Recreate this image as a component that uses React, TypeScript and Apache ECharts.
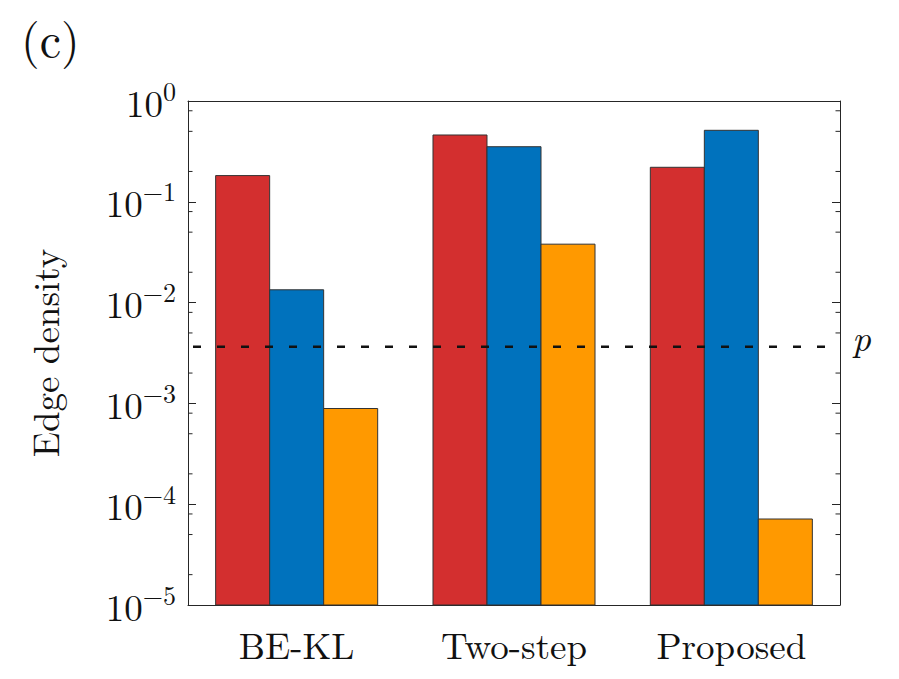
import React, { useEffect, useRef } from "react";
import * as echarts from "echarts";

const categories = ["BE-KL", "Two-step", "Proposed"];
const seriesNames = ["Series A", "Series B", "Series C"];
const seriesA = [0.182, 0.46, 0.22];
const seriesB = [0.0134, 0.352, 0.512];
const seriesC = [0.00089, 0.038, 0.0000713];
const pValue = 0.00365;
const yMin = 1e-5;
const yMax = 1;
const minorTickValues = [
  2e-5, 5e-5, 8e-5, 2e-4, 5e-4, 8e-4, 2e-3, 5e-3, 8e-3, 2e-2, 5e-2, 8e-2, 0.2, 0.5, 0.8,
];
const colors = ["#D32F2F", "#0072BD", "#FF9900"];

const FONT = "'Latin Modern Roman', 'DejaVu Serif', serif";
const AXIS_COLOR = "#262626";
const GROUP_FRACTION = 0.7455;

export default function App() {
  const ref = useRef<HTMLDivElement>(null);
  useEffect(() => {
    if (!ref.current) return;
    const chart = echarts.init(ref.current, undefined, { renderer: "svg" });
    const sup = (v: number) => {
      const e = Math.round(Math.log10(v));
      const s = e < 0 ? "\u2212" + Math.abs(e) : String(e);
      return "{b|10}{s|" + s + "}";
    };
    const nSeries = 3;
    const barSeries = [seriesA, seriesB, seriesC].map((d, si) => ({
      name: seriesNames[si],
      type: "custom",
      z: 3,
      data: d.map((v, ci) => [ci, v]),
      renderItem: (params: any, api: any) => {
        const ci = api.value(0);
        const v = api.value(1);
        const top = api.coord([ci, v]);
        const bottom = api.coord([ci, yMin]);
        const bw = api.size([1, 0])[0];
        const groupW = bw * GROUP_FRACTION;
        const barW = groupW / nSeries;
        const x0 = top[0] - groupW / 2 + si * barW;
        return {
          type: "rect",
          shape: { x: x0, y: top[1], width: barW, height: bottom[1] - top[1] },
          style: { fill: colors[si], stroke: "#333", lineWidth: 1 },
        };
      },
    }));
    const minorSeries = {
      type: "custom",
      silent: true,
      data: minorTickValues.map((v) => [0, v]),
      z: 5,
      renderItem: (params: any, api: any) => {
        const y = api.coord([0, api.value(1)])[1];
        const cs = params.coordSys;
        return {
          type: "group",
          children: [
            {
              type: "line",
              shape: { x1: cs.x, y1: y, x2: cs.x + 4.5, y2: y },
              style: { stroke: AXIS_COLOR, lineWidth: 1 },
            },
            {
              type: "line",
              shape: { x1: cs.x + cs.width - 4.5, y1: y, x2: cs.x + cs.width, y2: y },
              style: { stroke: AXIS_COLOR, lineWidth: 1 },
            },
          ],
        };
      },
    };
    const pSeries = {
      type: "custom",
      silent: true,
      z: 6,
      data: [[0, pValue]],
      renderItem: (params: any, api: any) => {
        const y = api.coord([0, api.value(1)])[1];
        const cs = params.coordSys;
        return {
          type: "group",
          children: [
            {
              type: "line",
              shape: { x1: cs.x + 5, y1: y, x2: cs.x + cs.width - 4, y2: y },
              style: { stroke: "#111", lineWidth: 2.5, lineDash: [8, 16] },
            },
            {
              type: "text",
              x: cs.x + cs.width + 12,
              y: y - 11,
              style: {
                text: "p",
                font: "italic 37px " + FONT,
                fill: "#111",
                verticalAlign: "middle",
                align: "left",
              },
            },
          ],
        };
      },
    };
    chart.setOption({
      animation: false,
      backgroundColor: "#fff",
      textStyle: { fontFamily: FONT },
      title: {
        text: "(c)",
        left: 16,
        top: 8,
        textStyle: { fontFamily: FONT, fontSize: 48, fontWeight: "normal", color: "#111" },
      },
      grid: { left: 188, top: 101, right: 59, bottom: 74, containLabel: false },
      xAxis: [
        {
          type: "category",
          data: categories,
          position: "bottom",
          axisLine: { lineStyle: { color: AXIS_COLOR, width: 1 } },
          axisTick: { alignWithLabel: true, inside: true, length: 8, lineStyle: { color: AXIS_COLOR } },
          axisLabel: { fontFamily: FONT, fontSize: 37, color: "#111", margin: 20 },
        },
        {
          type: "category",
          data: categories,
          position: "top",
          axisLine: { lineStyle: { color: AXIS_COLOR, width: 1 } },
          axisTick: { alignWithLabel: true, inside: true, length: 8, lineStyle: { color: AXIS_COLOR } },
          axisLabel: { show: false },
        },
      ],
      yAxis: [
        {
          type: "log",
          logBase: 10,
          min: yMin,
          max: yMax,
          position: "left",
          name: "Edge density",
          nameLocation: "middle",
          nameGap: 126,
          nameTextStyle: { fontFamily: FONT, fontSize: 37, color: "#111" },
          axisLine: { show: true, lineStyle: { color: AXIS_COLOR, width: 1 } },
          axisTick: { show: true, inside: true, length: 8, lineStyle: { color: AXIS_COLOR } },
          splitLine: { show: false },
          axisLabel: {
            formatter: sup,
            margin: 12,
            color: "#111",
            rich: {
              b: { fontFamily: FONT, fontSize: 37, color: "#111" },
              s: { fontFamily: FONT, fontSize: 26, color: "#111", verticalAlign: "top", padding: [0, 0, 22, 0] },
            },
          },
        },
        {
          type: "log",
          logBase: 10,
          min: yMin,
          max: yMax,
          position: "right",
          axisLine: { show: true, lineStyle: { color: AXIS_COLOR, width: 1 } },
          axisTick: { show: true, inside: true, length: 8, lineStyle: { color: AXIS_COLOR } },
          splitLine: { show: false },
          axisLabel: { show: false },
        },
      ],
      series: [...barSeries, minorSeries, pSeries],
    });
    return () => chart.dispose();
  }, []);
  return (
    <div
      ref={ref}
      style={{ position: "absolute", left: 0, top: 0, width: 899, height: 679 }}
    />
  );
}
